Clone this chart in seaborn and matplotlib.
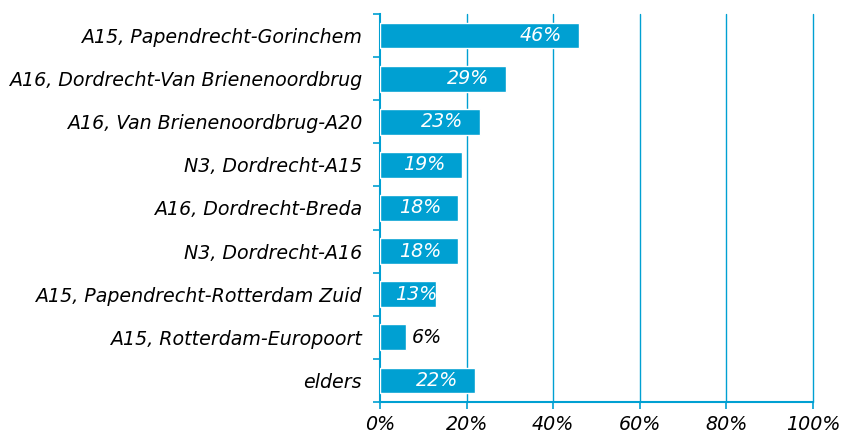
import numpy as np
import pandas as pd
import matplotlib
matplotlib.use("Agg")
import matplotlib.pyplot as plt
import seaborn as sns

routes = [
    "A15, Papendrecht-Gorinchem",
    "A16, Dordrecht-Van Brienenoordbrug",
    "A16, Van Brienenoordbrug-A20",
    "N3, Dordrecht-A15",
    "A16, Dordrecht-Breda",
    "N3, Dordrecht-A16",
    "A15, Papendrecht-Rotterdam Zuid",
    "A15, Rotterdam-Europoort",
    "elders",
]
shares = [46, 29, 23, 19, 18, 18, 13, 6, 22]
xticks = [0, 20, 40, 60, 80, 100]

blue = "#00a0d2"
fs = 13.7

sns.set_style("white")
plt.rcParams['font.family'] = ['DejaVu Sans']
plt.rcParams['xtick.bottom'] = True
plt.rcParams['ytick.left'] = True
plt.rcParams['text.color'] = 'black'
plt.rcParams['xtick.labelcolor'] = 'black'
plt.rcParams['ytick.labelcolor'] = 'black'

df = pd.DataFrame({'route': routes, 'share': shares})

fig = plt.figure(figsize=(8.43, 4.37), dpi=100)
ax = fig.add_axes([380 / 843, 35 / 437, 433 / 843, 388 / 437])

sns.barplot(data=df, x='share', y='route', orient='h', color=blue,
            saturation=1, width=0.6, ax=ax, zorder=3)

ax.set_xlim(0, 100)
ax.set_ylim(len(routes) - 0.5, -0.5)
ax.set_xticks(xticks)
ax.set_xticklabels([f"{t}%" for t in xticks], fontsize=fs, style='italic')
ax.set_yticks(range(len(routes)))
ax.set_yticklabels(routes, fontsize=fs, style='italic')
ax.set_yticks(np.arange(-0.5, len(routes), 1), minor=True)
ax.set_xlabel("")
ax.set_ylabel("")

ax.tick_params(axis='y', which='major', left=False, pad=9.5)
ax.tick_params(axis='y', which='minor', left=True, length=5, width=1.2,
               color=blue, direction='out')
ax.tick_params(axis='x', bottom=True, length=5, width=1.2, color=blue,
               direction='out', pad=4)

for t in xticks[1:]:
    ax.axvline(t, color=blue, lw=1.0, zorder=1, clip_on=False)

for s in ['top', 'right']:
    ax.spines[s].set_visible(False)
for s in ['left', 'bottom']:
    ax.spines[s].set_color(blue)
    ax.spines[s].set_linewidth(1.5)

for i, v in enumerate(shares):
    if v >= 10:
        ax.text(max(v - 3.9, 13.2), i, f"{v}%", ha='right', va='center',
                color='white', fontsize=fs, style='italic', zorder=4)
    else:
        ax.text(v + 1.3, i, f"{v}%", ha='left', va='center',
                color='black', fontsize=fs, style='italic', zorder=4)

fig.savefig("out.png", dpi=100)
